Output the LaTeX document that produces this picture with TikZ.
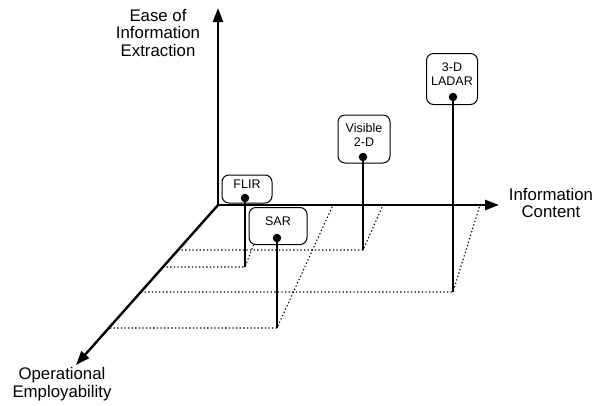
\documentclass[tikz,border=0pt]{standalone}
\usepackage{fontspec}
\setmainfont{Liberation Sans}
\usetikzlibrary{arrows.meta}

\begin{document}
\begin{tikzpicture}[x=1pt,y=-1pt,>={Triangle[length=14pt,width=10pt]},
  font=\fontsize{16.8}{17.5}\selectfont,
  axis/.style={line width=2.4pt,->},
  stem/.style={line width=1.6pt},
  trace/.style={dash pattern=on 1.3pt off 2.3pt,line width=1.1pt},
  sensor/.style={draw,line width=1pt,rounded corners=7pt,fill=white,align=center,
    font=\fontsize{12.5}{14}\selectfont,inner sep=3pt,text depth=9pt},
  ball/.style={circle,fill,inner sep=0pt,minimum size=8.5pt}]
\useasboundingbox (0,0) rectangle (595,405);
\coordinate (o) at (218,205);
\coordinate (top) at (218,8);
\coordinate (right) at (499,205);
\coordinate (down) at (76,365);
% feet on the floor and their traces
\coordinate (flirfoot) at (245,267);
\coordinate (sarfoot) at (277,328);
\coordinate (visfoot) at (363,250);
\coordinate (ladfoot) at (453,292);
\coordinate (flirl) at (163,267);
\coordinate (sarl) at (110,328);
\coordinate (visl) at (178,250);
\coordinate (ladl) at (141,292);
\coordinate (flirr) at (269,205);
\coordinate (sarr) at (333,205);
\coordinate (visr) at (383,205);
\coordinate (ladr) at (480,205);
\foreach \s in {flir,sar,vis,lad} {
  \draw[trace] (\s l) -- (\s foot) -- (\s r);
}
% axes
\draw[axis] (o) -- (top);
\draw[axis] (o) -- (right);
\draw[axis] (o) -- (down);
\node[align=center] (ease) at (158,33) {Ease of\\Information\\Extraction};
\node[align=center] (content) at (551,203) {Information\\Content};
\node[align=center] (oper) at (62,384) {Operational\\Employability};
% sensors
\node[sensor,minimum width=50pt,minimum height=28pt] (flir) at (247,189) {FLIR};
\node[sensor,minimum width=58pt,minimum height=37pt] (sar) at (278,226) {SAR};
\node[sensor,minimum width=52pt,minimum height=48pt] (vis) at (364,139) {Visible\\2-D};
\node[sensor,minimum width=51pt,minimum height=51pt] (lad) at (452,79) {3-D\\LADAR};
\node[ball] (flirdot) at (245,198) {};
\node[ball] (sardot) at (277,238) {};
\node[ball] (visdot) at (363,157) {};
\node[ball] (laddot) at (453,97) {};
\foreach \s in {flir,sar,vis,lad} {
  \draw[stem] (\s dot.center) -- (\s foot);
}
\end{tikzpicture}
\end{document}
